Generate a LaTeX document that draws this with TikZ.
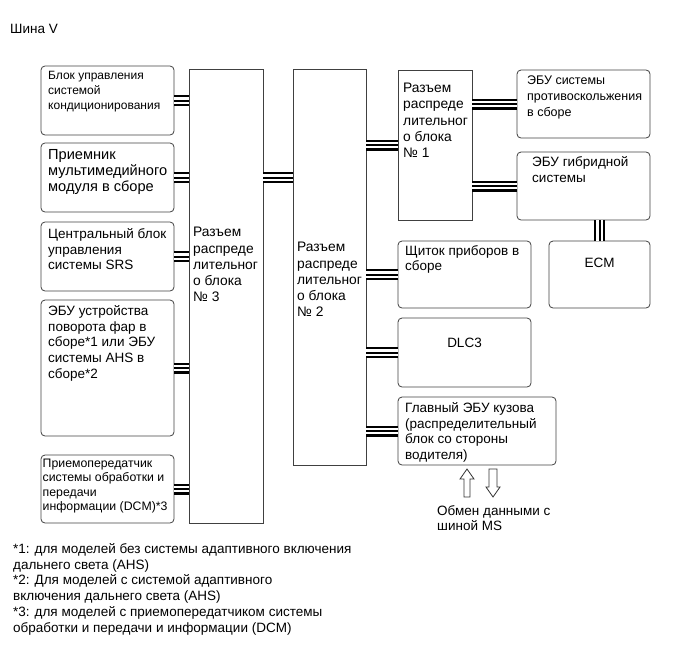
\documentclass[tikz,border=0pt]{standalone}
\usepackage{fontspec}
\setmainfont{Liberation Sans}
\usetikzlibrary{positioning}

\begin{document}
\begin{tikzpicture}[x=1pt, y=1pt,
  box/.style={draw=black!75, line width=0.8pt, rounded corners=4pt, inner sep=0pt, outer sep=0pt, anchor=north west},
  blk/.style={draw=black!75, line width=0.8pt, inner sep=0pt, outer sep=0pt, anchor=north west},
  lbl/.style={inner sep=0pt, align=left, font=\fontsize{13.5}{15.8}\selectfont},
  bus/.style={line width=11pt, postaction={draw=white, line width=6.5pt}, postaction={draw=black, line width=2pt}},
  hollow/.style={draw=black!80, line width=0.8pt, fill=white}]
\useasboundingbox (0,0) rectangle (690,-659);
\node[lbl, anchor=west] (title) at (10,-29) {Шина V};
% left column
\node[box, minimum width=133pt, minimum height=69pt] (acu) at (41,-66) {};
\node[box, minimum width=133pt, minimum height=69pt] (mmr) at (41,-143) {};
\node[box, minimum width=133pt, minimum height=69pt] (srs) at (41,-222) {};
\node[box, minimum width=133pt, minimum height=136pt] (afs) at (41,-300) {};
\node[box, minimum width=133pt, minimum height=68pt] (dcm) at (41,-455) {};
% junction blocks
\node[blk, minimum width=74pt, minimum height=454pt] (rd3) at (189,-69) {};
\node[blk, minimum width=73pt, minimum height=396pt] (rd2) at (293,-69) {};
\node[blk, minimum width=74pt, minimum height=150pt] (rd1) at (398,-70) {};
% right side
\node[box, minimum width=133pt, minimum height=68pt] (abs) at (517,-70) {};
\node[box, minimum width=133pt, minimum height=68pt] (hv) at (517,-152) {};
\node[box, minimum width=101pt, minimum height=67pt] (ecm) at (549,-241) {};
\node[box, minimum width=133pt, minimum height=67pt] (cmb) at (398,-241) {};
\node[box, minimum width=133pt, minimum height=69pt] (dlc) at (398,-318) {};
\node[box, minimum width=158pt, minimum height=68pt] (bcm) at (398,-397) {};
% texts
\node[lbl, font=\fontsize{12}{15}\selectfont, below right=5pt and 7pt of acu.north west] (acutxt) {Блок управления\\системой\\кондиционирования};
\node[lbl, font=\fontsize{14.6}{16}\selectfont, below right=6pt and 7pt of mmr.north west] (mmrtxt) {Приемник\\мультимедийного\\модуля в сборе};
\node[lbl, below right=6pt and 7pt of srs.north west] (srstxt) {Центральный блок\\управления\\системы SRS};
\node[lbl, below right=5pt and 7pt of afs.north west] (afstxt) {ЭБУ устройства\\поворота фар в\\сборе*1 или ЭБУ\\системы AHS в\\сборе*2};
\node[lbl, font=\fontsize{12.3}{14.3}\selectfont, below right=4pt and 1.5pt of dcm.north west] (dcmtxt) {Приемопередатчик\\системы обработки и\\передачи\\информации (DCM)*3};
\node[lbl, font=\fontsize{13.8}{16.3}\selectfont, below right=158pt and 4pt of rd3.north west] (rd3txt) {Разъем\\распреде\\лительног\\о блока\\№ 3};
\node[lbl, font=\fontsize{13.8}{16.3}\selectfont, below right=173pt and 4pt of rd2.north west] (rd2txt) {Разъем\\распреде\\лительног\\о блока\\№ 2};
\node[lbl, font=\fontsize{13.8}{16.3}\selectfont, below right=13pt and 5pt of rd1.north west] (rd1txt) {Разъем\\распреде\\лительног\\о блока\\№ 1};
\node[lbl, font=\fontsize{12.5}{15.8}\selectfont, below right=6pt and 10pt of abs.north west] (abstxt) {ЭБУ системы\\противоскольжения\\в сборе};
\node[lbl, below right=4pt and 15pt of hv.north west] (hvtxt) {ЭБУ гибридной\\системы};
\node[lbl, below=17pt of ecm.north] (ecmtxt) {ECM};
\node[lbl, below right=4pt and 7pt of cmb.north west] (cmbtxt) {Щиток приборов в\\сборе};
\node[lbl, below=20pt of dlc.north] (dlctxt) {DLC3};
\node[lbl, below right=5pt and 7pt of bcm.north west] (bcmtxt) {Главный ЭБУ кузова\\(распределительный\\блок со стороны\\водителя)};
% buses
\foreach \n in {acu,mmr,srs,afs,dcm} \draw[bus] (\n.east) -- (\n.east -| rd3.west);
\draw[bus] (rd3.east |- mmr.east) -- (rd2.west |- mmr.east);
\foreach \n in {rd1,cmb,dlc,bcm} \draw[bus] (\n.west -| rd2.east) -- (\n.west);
\foreach \n in {abs,hv} \draw[bus] (\n.west -| rd1.east) -- (\n.west);
\draw[bus] (hv.south -| ecm.north) -- (ecm.north);
% MS bus exchange
\coordinate (up) at (467,-469);
\coordinate (dn) at (493,-497);
\draw[hollow] (up) -- ++(7,-10) -- ++(-4,0) -- ++(0,-18) -- ++(-6,0) -- ++(0,18) -- ++(-4,0) -- cycle;
\draw[hollow] (dn) -- ++(7,10) -- ++(-3,0) -- ++(0,18) -- ++(-8,0) -- ++(0,-18) -- ++(-3,0) -- cycle;
\node[lbl, anchor=north west] (mstxt) at (437,-505) {Обмен данными с\\шиной MS};
% footnotes
\node[lbl, anchor=north west] (notes) at (13,-543) {*1: для моделей без системы адаптивного включения\\дальнего света (AHS)\\*2: Для моделей с системой адаптивного\\включения дальнего света (AHS)\\*3: для моделей с приемопередатчиком системы\\обработки и передачи и информации (DCM)};
\end{tikzpicture}
\end{document}
